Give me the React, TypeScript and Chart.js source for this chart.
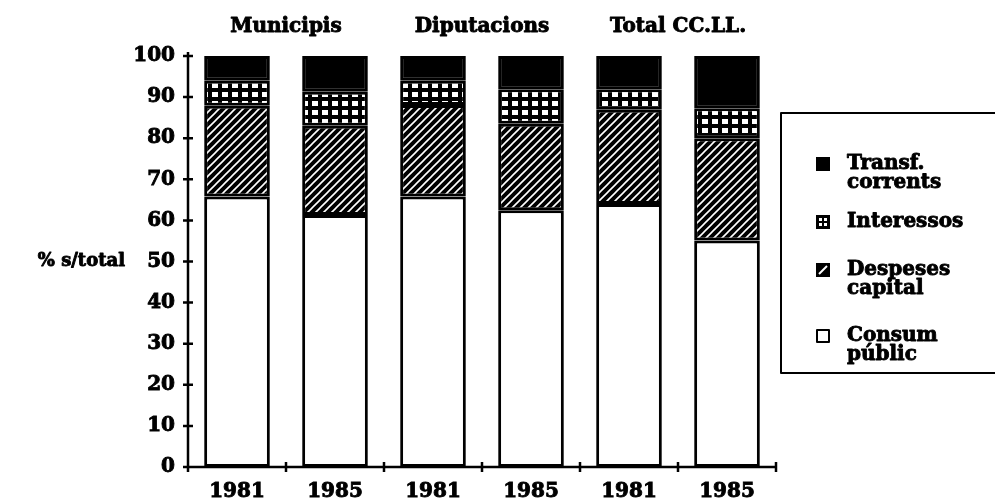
import React, { useEffect, useRef } from "react";
import { Chart, registerables } from "chart.js";

Chart.register(...registerables);

const years = ["1981", "1985", "1981", "1985", "1981", "1985"];
const groups = ["Municipis", "Diputacions", "Total CC.LL."];
const consumPublic = [65.8, 61.3, 65.8, 62.5, 64.0, 55.1];
const despesesCapital = [22.1, 21.7, 22.3, 21.0, 22.9, 24.9];
const interessos = [6.1, 8.3, 5.9, 8.4, 5.0, 7.3];
const transfCorrents = [6.0, 8.7, 6.0, 8.1, 8.1, 12.7];
const yTicks = [0, 10, 20, 30, 40, 50, 60, 70, 80, 90, 100];
const legendItems = [
  { key: "transf", lines: ["Transf.", "corrents"] },
  { key: "inter", lines: ["Interessos"] },
  { key: "desp", lines: ["Despeses", "capital"] },
  { key: "consum", lines: ["Consum", "públic"] },
];

const FAMILY = "'DejaVu Serif'";
const FONT = `bold 20px ${FAMILY}`;
const STROKE = 0.9;

function makeHatch(): CanvasPattern | string {
  const c = document.createElement("canvas");
  c.width = 8;
  c.height = 8;
  const g = c.getContext("2d");
  if (!g) return "#000";
  g.fillStyle = "#000";
  g.fillRect(0, 0, 8, 8);
  g.strokeStyle = "#fff";
  g.lineWidth = 1.6;
  g.beginPath();
  g.moveTo(-1, 9);
  g.lineTo(9, -1);
  g.moveTo(-5, 5);
  g.lineTo(5, -5);
  g.moveTo(3, 13);
  g.lineTo(13, 3);
  g.stroke();
  return g.createPattern(c, "repeat") || "#000";
}

function makeGrid(): CanvasPattern | string {
  const c = document.createElement("canvas");
  c.width = 10;
  c.height = 9;
  const g = c.getContext("2d");
  if (!g) return "#000";
  g.fillStyle = "#000";
  g.fillRect(0, 0, 10, 9);
  g.fillStyle = "#fff";
  g.fillRect(2, 2, 6, 5);
  return g.createPattern(c, "repeat") || "#000";
}

function heavyText(ctx: CanvasRenderingContext2D, t: string, x: number, y: number) {
  ctx.fillText(t, x, y);
  ctx.lineWidth = STROKE;
  ctx.strokeStyle = "#000";
  ctx.lineJoin = "round";
  ctx.strokeText(t, x, y);
}

export default function App() {
  const ref = useRef<HTMLCanvasElement>(null);
  useEffect(() => {
    document.body.style.margin = "0";
    const canvas = ref.current;
    if (!canvas) return;
    const hatch = makeHatch();
    const grid = makeGrid();

    const customPlugin = {
      id: "custom",
      afterDraw(chart: any) {
        const ctx = chart.ctx;
        const area = chart.chartArea;
        const xs = chart.scales.x;
        const ys = chart.scales.y;
        ctx.save();
        ctx.strokeStyle = "#000";
        ctx.lineWidth = 2.5;
        // y axis
        ctx.beginPath();
        ctx.moveTo(area.left, area.top - 4);
        ctx.lineTo(area.left, area.bottom + 5);
        yTicks.forEach((v) => {
          const y = ys.getPixelForValue(v);
          ctx.moveTo(area.left - 5, y);
          ctx.lineTo(area.left + 5, y);
        });
        // x axis
        ctx.moveTo(area.left - 3, area.bottom);
        ctx.lineTo(area.right + 1, area.bottom);
        const n = years.length;
        const cw = (area.right - area.left) / n;
        for (let i = 0; i <= n; i++) {
          const x = area.left + i * cw;
          ctx.moveTo(x, area.bottom - 5);
          ctx.lineTo(x, area.bottom + 5);
        }
        ctx.stroke();

        // group labels
        ctx.fillStyle = "#000";
        ctx.font = FONT;
        ctx.textAlign = "center";
        ctx.textBaseline = "middle";
        groups.forEach((gname, i) => {
          const x = xs.getPixelForValue(i * 2 + 0.5);
          heavyText(ctx, gname, x, 27);
        });

        // y title
        ctx.font = `bold 18px ${FAMILY}`;
        ctx.textAlign = "right";
        heavyText(ctx, "% s/total", 125, ys.getPixelForValue(50));

        // legend box
        ctx.font = FONT;
        const lx = 781;
        const ly = 113;
        ctx.lineWidth = 2;
        ctx.beginPath();
        ctx.moveTo(chart.width + 2, ly);
        ctx.lineTo(lx, ly);
        ctx.lineTo(lx, 373);
        ctx.lineTo(chart.width + 2, 373);
        ctx.stroke();

        const rows = [164, 222, 270, 336];
        legendItems.forEach((it, i) => {
          const y0 = rows[i];
          const s = 14;
          const ix = 816;
          const iy = y0 - s / 2;
          if (it.key === "transf") {
            ctx.fillStyle = "#000";
            ctx.fillRect(ix, iy, s, s);
          } else if (it.key === "inter") {
            ctx.fillStyle = "#000";
            ctx.fillRect(ix, iy, s, s);
            ctx.fillStyle = "#fff";
            ctx.fillRect(ix + 3, iy + 3, 3, 3);
            ctx.fillRect(ix + 8, iy + 3, 3, 3);
            ctx.fillRect(ix + 3, iy + 8, 3, 3);
            ctx.fillRect(ix + 8, iy + 8, 3, 3);
          } else if (it.key === "desp") {
            ctx.fillStyle = "#000";
            ctx.fillRect(ix, iy, s, s);
            ctx.strokeStyle = "#fff";
            ctx.lineWidth = 2;
            ctx.beginPath();
            ctx.moveTo(ix + 3, iy + s - 3);
            ctx.lineTo(ix + s - 3, iy + 3);
            ctx.stroke();
          } else {
            ctx.fillStyle = "#fff";
            ctx.fillRect(ix, iy, s, s);
            ctx.strokeStyle = "#000";
            ctx.lineWidth = 2;
            ctx.strokeRect(ix + 1, iy + 1, s - 2, s - 2);
          }
          ctx.fillStyle = "#000";
          ctx.textAlign = "left";
          ctx.textBaseline = "middle";
          it.lines.forEach((ln, j) => {
            heavyText(ctx, ln, 847, y0 + j * 19);
          });
        });
        ctx.restore();
      },
    };

    const common = {
      borderColor: "#000",
      borderWidth: 3,
      borderSkipped: false as const,
      categoryPercentage: 1,
      barPercentage: 0.67,
    };

    const tickFont = { family: "DejaVu Serif", size: 20, weight: "bold" as const };

    const chart = new Chart(canvas, {
      type: "bar",
      data: {
        labels: years,
        datasets: [
          { label: "Consum públic", data: consumPublic, backgroundColor: "#fff", ...common },
          { label: "Despeses capital", data: despesesCapital, backgroundColor: hatch as any, ...common },
          { label: "Interessos", data: interessos, backgroundColor: grid as any, ...common },
          { label: "Transf. corrents", data: transfCorrents, backgroundColor: "#000", ...common },
        ],
      },
      options: {
        animation: false,
        responsive: false,
        layout: { padding: { top: 56, right: 219, left: 0, bottom: 0 } },
        plugins: { legend: { display: false }, tooltip: { enabled: false } },
        scales: {
          x: {
            stacked: true,
            offset: true,
            grid: { display: false },
            border: { display: false },
            ticks: {
              color: "#000",
              font: tickFont,
              padding: 5,
              textStrokeColor: "#000",
              textStrokeWidth: STROKE,
            },
            afterFit: (s: any) => {
              s.height = 34;
            },
          },
          y: {
            stacked: true,
            min: 0,
            max: 100,
            grid: { display: false },
            border: { display: false },
            ticks: {
              stepSize: 10,
              color: "#000",
              font: tickFont,
              padding: 5,
              textStrokeColor: "#000",
              textStrokeWidth: STROKE,
            },
            afterFit: (s: any) => {
              s.width = 188;
            },
          },
        },
      },
      plugins: [customPlugin],
    });
    return () => chart.destroy();
  }, []);

  return (
    <div style={{ width: 995, height: 501 }}>
      <canvas ref={ref} width={995} height={501} />
    </div>
  );
}
